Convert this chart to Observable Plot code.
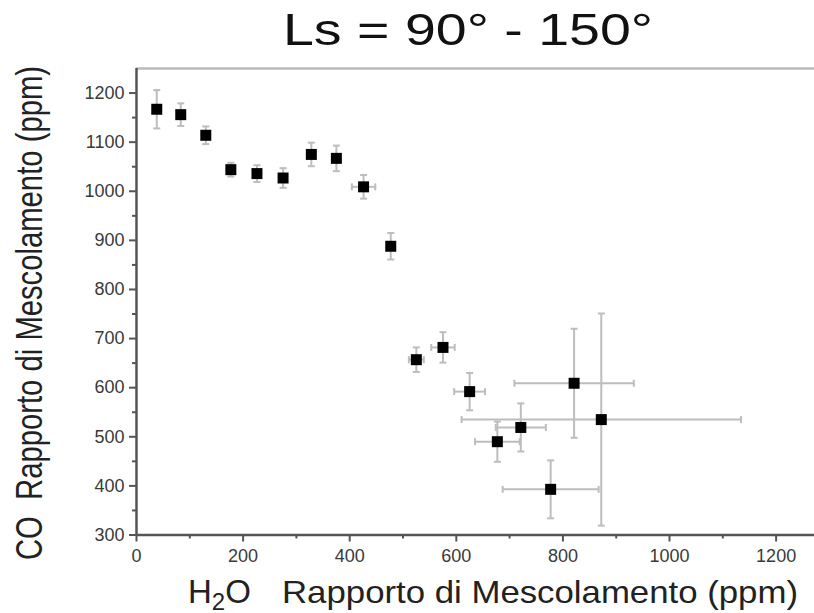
<!DOCTYPE html>
<html><head><meta charset="utf-8">
<script src="https://cdn.jsdelivr.net/npm/d3@7"></script>
<script src="https://cdn.jsdelivr.net/npm/@observablehq/plot@0.6"></script>
<style>body{margin:0;background:#fff;} svg{display:block}</style>
</head><body><div id="chart"></div>
<script>
const titleText = "Ls = 90° - 150°";
const xTitleH = "H", xTitleSub = "2", xTitleO = "O";
const xTitleMain = "Rapporto di Mescolamento (ppm)";
const yTitleText = "CO  Rapporto di Mescolamento (ppm)";

// H2O mixing ratio (ppm) and CO mixing ratio (ppm) with error bars
const h2o    = [38, 83, 130, 177, 226, 275, 328, 375, 426, 477, 525, 575, 625, 677, 721, 821, 872, 777];
const co     = [1167, 1156, 1114, 1044, 1036, 1027, 1075, 1067, 1009, 888, 657, 682, 592, 490, 519, 609, 535, 393];
const h2oErr = [6, 6, 6, 6, 6, 6, 6, 6, 22, 8, 14, 22, 29, 42, 47, 112, 262, 90];
const coErr  = [39, 23, 18, 14, 17, 20, 24, 26, 24, 27, 25, 31, 38, 41, 49, 111, 216, 59];

const xTicks = [0, 200, 400, 600, 800, 1000, 1200];
const xMinor = [100, 300, 500, 700, 900, 1100];
const yTicks = [300, 400, 500, 600, 700, 800, 900, 1000, 1100, 1200];
const yMinor = [350, 450, 550, 650, 750, 850, 950, 1050, 1150];

const data = h2o.map((x, i) => ({x, y: co[i], ex: h2oErr[i], ey: coErr[i]}));

const hLine = {draw(ctx, size) { const h = Math.sqrt(size / Math.PI); ctx.moveTo(-h, 0); ctx.lineTo(h, 0); }};
const vLine = {draw(ctx, size) { const h = Math.sqrt(size / Math.PI); ctx.moveTo(0, -h); ctx.lineTo(0, h); }};

const errColor = "#bdbdbd";
const axisColor = "#555";

const svg = Plot.plot({
  width: 814,
  height: 613,
  marginLeft: 136,
  marginRight: 0,
  marginTop: 68,
  marginBottom: 78.5,
  style: {fontFamily: "'Liberation Sans', Arial, sans-serif", background: "#fff"},
  x: {domain: [0, 1272], axis: null},
  y: {domain: [300, 1250], axis: null},
  marks: [
    // error bars
    Plot.ruleX(data, {x: "x", y1: d => d.y - d.ey, y2: d => d.y + d.ey, stroke: errColor, strokeWidth: 2}),
    Plot.ruleY(data, {y: "y", x1: d => d.x - d.ex, x2: d => d.x + d.ex, stroke: errColor, strokeWidth: 2}),
    Plot.dot(data, {x: "x", y: d => d.y - d.ey, symbol: hLine, r: 3.5, stroke: errColor, strokeWidth: 2}),
    Plot.dot(data, {x: "x", y: d => d.y + d.ey, symbol: hLine, r: 3.5, stroke: errColor, strokeWidth: 2}),
    Plot.dot(data.filter(d => d.ex > 10), {x: d => d.x - d.ex, y: "y", symbol: vLine, r: 3.5, stroke: errColor, strokeWidth: 2}),
    Plot.dot(data.filter(d => d.ex > 10), {x: d => d.x + d.ex, y: "y", symbol: vLine, r: 3.5, stroke: errColor, strokeWidth: 2}),
    // frame
    Plot.ruleY([1250], {stroke: "#bbb", strokeWidth: 2.5}),
    Plot.ruleX([0], {stroke: axisColor, strokeWidth: 2.5}),
    Plot.ruleY([300], {stroke: axisColor, strokeWidth: 2.5}),
    // axes
    Plot.axisX(xTicks, {tickSize: 7, tickPadding: 7, fontSize: 18, stroke: axisColor, strokeWidth: 2, fill: "#3a3a3a", label: null, tickFormat: d => String(d)}),
    Plot.axisX(xMinor, {tickSize: 4, stroke: axisColor, strokeWidth: 2, label: null, tickFormat: () => ""}),
    Plot.axisY(yTicks, {tickSize: 7, tickPadding: 5, fontSize: 18, stroke: axisColor, strokeWidth: 2, fill: "#3a3a3a", label: null, tickFormat: d => String(d)}),
    Plot.axisY(yMinor, {tickSize: 4, stroke: axisColor, strokeWidth: 2, label: null, tickFormat: () => ""}),
    // markers
    Plot.dot(data, {x: "x", y: "y", symbol: "square", r: 6.2, fill: "#000", stroke: "none"})
  ]
});

const s = d3.select(svg);
s.append("text")
  .attr("x", 283).attr("y", 45)
  .attr("text-anchor", "start")
  .attr("font-size", 45).attr("fill", "#111")
  .attr("textLength", 370).attr("lengthAdjust", "spacingAndGlyphs")
  .text(titleText);

const xt = s.append("text").attr("x", 188).attr("y", 603).attr("text-anchor", "start").attr("font-size", 33).attr("fill", "#222");
xt.append("tspan").text(xTitleH);
xt.append("tspan").attr("font-size", 24).attr("dy", 7).text(xTitleSub);
xt.append("tspan").attr("dy", -7).text(xTitleO);

s.append("text")
  .attr("x", 282).attr("y", 603)
  .attr("text-anchor", "start")
  .attr("font-size", 32).attr("fill", "#222")
  .attr("textLength", 516).attr("lengthAdjust", "spacingAndGlyphs")
  .text(xTitleMain);

s.append("text")
  .attr("transform", "translate(42,560) rotate(-90)")
  .attr("text-anchor", "start")
  .attr("font-size", 36).attr("fill", "#222")
  .attr("textLength", 494).attr("lengthAdjust", "spacingAndGlyphs")
  .text(yTitleText);

document.getElementById("chart").appendChild(svg);
</script>
</body></html>
